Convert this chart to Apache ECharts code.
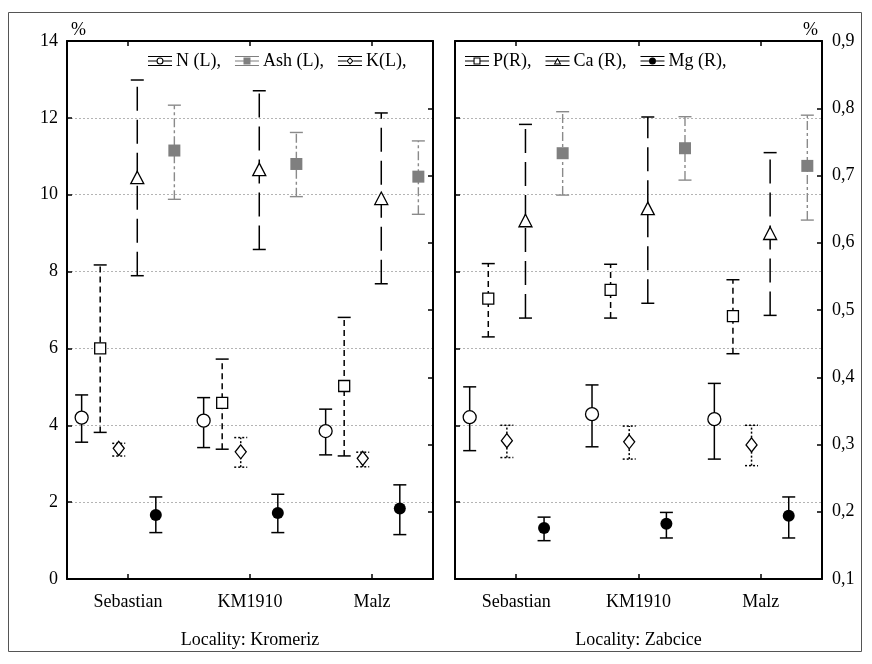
<!DOCTYPE html>
<html>
<head>
<meta charset="utf-8">
<script src="https://cdn.jsdelivr.net/npm/echarts@6/dist/echarts.min.js"></script>
<style>
  html, body { margin: 0; padding: 0; background: #fff; }
  #chart { width: 872px; height: 664px; }
</style>
</head>
<body>
<div id="chart"></div>
<script>
const categories = ['Sebastian', 'KM1910', 'Malz'];
const localities = ['Locality: Kromeriz', 'Locality: Zabcice'];
const seriesNames = ['N (L)', 'P(R)', 'K(L)', 'Ca (R)', 'Mg (R)', 'Ash (L)'];
// L = read on the left axis (0-14 %), R = right axis (0,1-0,9 %)
const seriesSide = ['L', 'R', 'L', 'R', 'R', 'L'];

// mean, lower and upper whisker: first three Kromeriz, last three Zabcice
const nMean = [4.20, 4.12, 3.85, 4.21, 4.29, 4.16];
const nLow = [3.56, 3.42, 3.23, 3.34, 3.44, 3.12];
const nHigh = [4.79, 4.72, 4.42, 5.00, 5.05, 5.09];

const pMean = [0.443, 0.362, 0.387, 0.517, 0.530, 0.491];
const pLow = [0.318, 0.293, 0.283, 0.460, 0.488, 0.435];
const pHigh = [0.567, 0.427, 0.489, 0.569, 0.568, 0.545];

const kMean = [3.40, 3.31, 3.14, 3.60, 3.57, 3.49];
const kLow = [3.20, 2.91, 2.92, 3.16, 3.12, 2.95];
const kHigh = [3.53, 3.68, 3.30, 4.00, 3.98, 4.00];

const caMean = [0.696, 0.708, 0.665, 0.632, 0.650, 0.613];
const caLow = [0.551, 0.590, 0.539, 0.488, 0.510, 0.492];
const caHigh = [0.842, 0.826, 0.793, 0.776, 0.787, 0.734];

const mgMean = [0.195, 0.198, 0.205, 0.176, 0.182, 0.194];
const mgLow = [0.169, 0.169, 0.166, 0.157, 0.161, 0.161];
const mgHigh = [0.222, 0.226, 0.240, 0.192, 0.199, 0.222];

const ashMean = [11.15, 10.80, 10.47, 11.08, 11.21, 10.75];
const ashLow = [9.88, 9.95, 9.49, 9.99, 10.38, 9.34];
const ashHigh = [12.33, 11.62, 11.40, 12.16, 12.03, 12.07];

const leftTicks = { min: 0, max: 14, interval: 2 };
const rightTicks = { min: 0.1, max: 0.9, interval: 0.1 };

const values = [
  [nMean, nLow, nHigh],
  [pMean, pLow, pHigh],
  [kMean, kLow, kHigh],
  [caMean, caLow, caHigh],
  [mgMean, mgLow, mgHigh],
  [ashMean, ashLow, ashHigh]
];

const font = '"Liberation Serif", "Times New Roman", serif';
const styles = [
  { marker: 'circle', color: '#000', dash: null, capDash: null },
  { marker: 'square', color: '#000', dash: [6, 4], capDash: null },
  { marker: 'diamond', color: '#000', dash: [2, 2], capDash: [2, 2] },
  { marker: 'triangle', color: '#000', dash: [24, 9], capDash: null },
  { marker: 'dot', color: '#000', dash: null, capDash: null },
  { marker: 'fsquare', color: '#8a8a8a', dash: [9, 3, 3, 3], capDash: null }
];

function marker(kind, x, y) {
  const hollow = { fill: '#fff', stroke: '#000', lineWidth: 1.3 };
  switch (kind) {
    case 'circle':
      return { type: 'circle', shape: { cx: x, cy: y, r: 6.5 }, style: hollow };
    case 'dot':
      return { type: 'circle', shape: { cx: x, cy: y, r: 6 }, style: { fill: '#000' } };
    case 'square':
      return { type: 'rect', shape: { x: x - 5.5, y: y - 5.5, width: 11, height: 11 }, style: hollow };
    case 'fsquare':
      return { type: 'rect', shape: { x: x - 6, y: y - 6, width: 12, height: 12 }, style: { fill: '#7f7f7f' } };
    case 'diamond':
      return { type: 'polygon', shape: { points: [[x, y - 7], [x + 5.5, y], [x, y + 7], [x - 5.5, y]] }, style: hollow };
    case 'triangle':
      return { type: 'polygon', shape: { points: [[x, y - 7], [x + 6.5, y + 5.5], [x - 6.5, y + 5.5]] }, style: hollow };
  }
}

// legend glyph: three short horizontal strokes with the marker in the middle
function glyph(kind) {
  const gaps = { circle: [8.5, 15.5], dot: [8.5, 15.5], square: [8.5, 15.5], fsquare: [8.5, 15.5], diamond: [8.5, 15.5], triangle: [10.6, 13.4] };
  const g = gaps[kind];
  const shapes = {
    circle: 'M8.5 5A3.5 3.5 0 1 1 15.5 5A3.5 3.5 0 1 1 8.5 5Z M9.6 5A2.4 2.4 0 1 0 14.4 5A2.4 2.4 0 1 0 9.6 5Z',
    dot: 'M8.5 5A3.5 3.5 0 1 1 15.5 5A3.5 3.5 0 1 1 8.5 5Z',
    square: 'M8.5 1.5H15.5V8.5H8.5Z M9.6 2.6V7.4H14.4V2.6Z',
    fsquare: 'M8.5 1.5H15.5V8.5H8.5Z',
    diamond: 'M12 1.2L15.5 5L12 8.8L8.5 5Z M12 2.8L9.9 5L12 7.2L14.1 5Z',
    triangle: 'M12 1.5L15.8 8.5H8.2Z M12 3.7L9.9 7.5H14.1Z'
  };
  return 'path://M0 0H24V1H0Z M0 9H24V10H0Z M0 4.5H' + g[0] + 'V5.5H0Z M' + g[1] + ' 4.5H24V5.5H' + g[1] + 'Z ' + shapes[kind];
}

function makeRender(k) {
  const st = styles[k];
  return function (params, api) {
    const cat = api.value(0);
    const mid = api.coord([cat, api.value(1)]);
    const lo = api.coord([cat, api.value(2)]);
    const hi = api.coord([cat, api.value(3)]);
    const bw = api.size([1, 0])[0];
    const x = mid[0] + (k - 2.5) * bw * 0.152;
    const cap = 6.5;
    const w = st.color === '#000' ? 1.5 : 1.4;
    const lineStyle = { stroke: st.color, lineWidth: w, lineDash: st.dash };
    const capStyle = { stroke: st.color, lineWidth: w, lineDash: st.capDash };
    return {
      type: 'group',
      children: [
        { type: 'line', shape: { x1: x, y1: lo[1], x2: x, y2: hi[1] }, style: lineStyle },
        { type: 'line', shape: { x1: x - cap, y1: hi[1], x2: x + cap, y2: hi[1] }, style: capStyle },
        { type: 'line', shape: { x1: x - cap, y1: lo[1], x2: x + cap, y2: lo[1] }, style: capStyle },
        marker(st.marker, x, mid[1])
      ]
    };
  };
}

const frameLine = { show: true, lineStyle: { color: '#000', width: 2 } };
const tickIn = { show: true, inside: true, length: 5, lineStyle: { color: '#000', width: 1.5 } };

const xAxis = [];
const yAxis = [];
const series = [];

[0, 1].forEach(g => {
  xAxis.push({
    gridIndex: g, type: 'category', data: categories, position: 'bottom',
    axisLine: frameLine, axisTick: Object.assign({ alignWithLabel: true }, tickIn),
    axisLabel: { color: '#000', fontFamily: font, fontSize: 18, margin: 14 },
    name: localities[g], nameLocation: 'middle', nameGap: 52,
    nameTextStyle: { color: '#000', fontFamily: font, fontSize: 18 }
  });
  xAxis.push({
    gridIndex: g, type: 'category', data: categories, position: 'top',
    axisLine: frameLine, axisTick: Object.assign({ alignWithLabel: true }, tickIn),
    axisLabel: { show: false }
  });
  yAxis.push(Object.assign({
    gridIndex: g, type: 'value', position: 'left',
    axisLine: frameLine, axisTick: tickIn,
    axisLabel: { show: g === 0, color: '#000', fontFamily: font, fontSize: 18, margin: 9 },
    splitLine: { show: true, lineStyle: { color: '#b4b4b4', type: [2, 2], width: 1 } },
    name: g === 0 ? '%' : '', nameLocation: 'end', nameGap: 2,
    nameTextStyle: { color: '#000', fontFamily: font, fontSize: 18, align: 'left', padding: [0, 0, 0, 4] }
  }, leftTicks));
  yAxis.push(Object.assign({
    gridIndex: g, type: 'value', position: 'right',
    axisLine: frameLine, axisTick: tickIn,
    axisLabel: {
      show: g === 1, color: '#000', fontFamily: font, fontSize: 18, margin: 10,
      formatter: v => v.toFixed(1).replace('.', ',')
    },
    splitLine: { show: false },
    name: g === 1 ? '%' : '', nameLocation: 'end', nameGap: 2,
    nameTextStyle: { color: '#000', fontFamily: font, fontSize: 18, align: 'right', padding: [0, 4, 0, 0] }
  }, rightTicks));

  seriesNames.forEach((name, k) => {
    const [mean, low, high] = values[k];
    const data = categories.map((c, i) => [i, mean[g * 3 + i], low[g * 3 + i], high[g * 3 + i]]);
    series.push({
      name: name,
      type: 'custom',
      xAxisIndex: g * 2,
      yAxisIndex: g * 2 + (seriesSide[k] === 'L' ? 0 : 1),
      itemStyle: { color: styles[k].color === '#000' ? '#000' : '#7f7f7f' },
      encode: { x: 0, y: [1, 2, 3] },
      renderItem: makeRender(k),
      data: data
    });
  });
});

function legendFor(names, left) {
  return {
    left: left, top: 47, orient: 'horizontal',
    itemWidth: 24, itemHeight: 10, itemGap: 14,
    selectedMode: false,
    formatter: '{name},',
    textStyle: { color: '#000', fontFamily: font, fontSize: 18, padding: [0, 0, 0, -1] },
    data: names.map(n => ({ name: n, icon: glyph(styles[seriesNames.indexOf(n)].marker) }))
  };
}

const chart = echarts.init(document.getElementById('chart'), null, { renderer: 'canvas' });
chart.setOption({
  backgroundColor: '#fff',
  animation: false,
  grid: [
    { left: 67, top: 41, width: 366, height: 538 },
    { left: 455, top: 41, width: 367, height: 538 }
  ],
  legend: [
    legendFor(['N (L)', 'Ash (L)', 'K(L)'], 143),
    legendFor(['P(R)', 'Ca (R)', 'Mg (R)'], 460)
  ],
  graphic: [{
    type: 'rect', silent: true,
    shape: { x: 8.5, y: 12.5, width: 853, height: 639 },
    style: { fill: null, stroke: '#555', lineWidth: 1 }
  }],
  xAxis: xAxis,
  yAxis: yAxis,
  series: series
});
</script>
</body>
</html>
